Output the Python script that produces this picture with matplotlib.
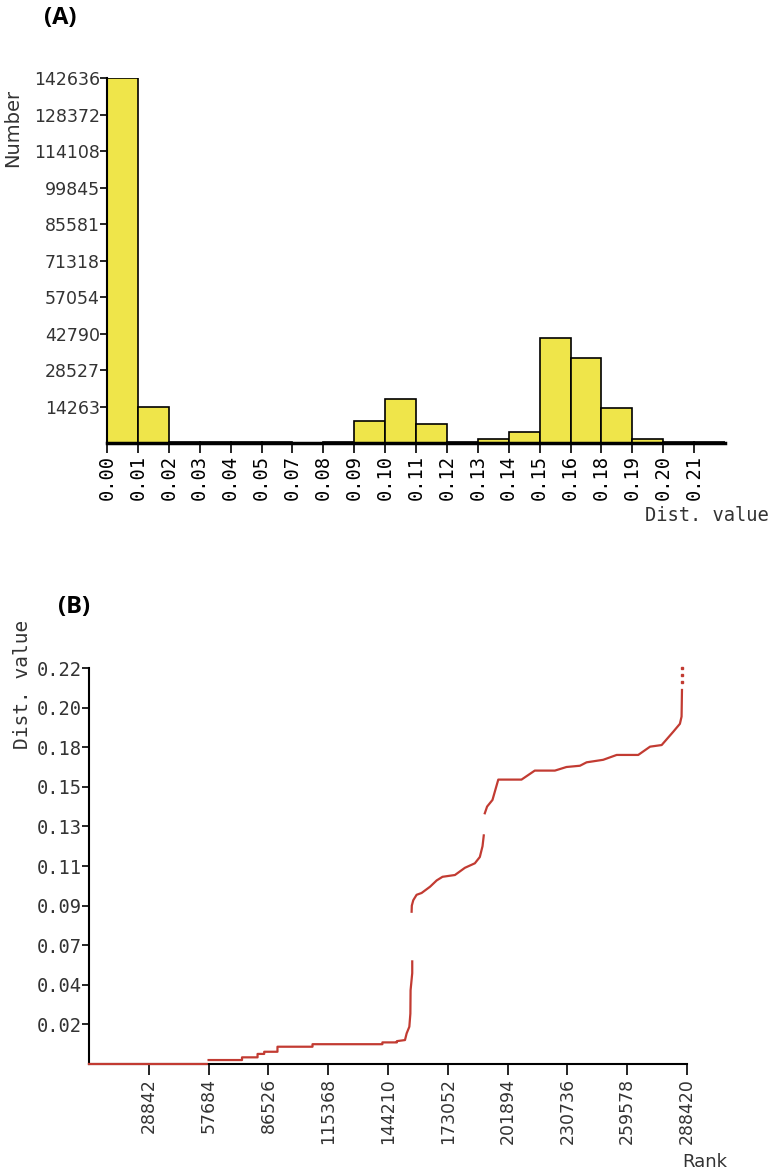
import matplotlib
matplotlib.use("Agg")
import matplotlib.pyplot as plt
import numpy as np

# (A) histogram of distance values
bin_labels = ["0.00", "0.01", "0.02", "0.03", "0.04", "0.05", "0.07", "0.08", "0.09", "0.10",
              "0.11", "0.12", "0.13", "0.14", "0.15", "0.16", "0.18", "0.19", "0.20", "0.21"]
bin_counts = [142636, 14000, 400, 400, 400, 400, 0, 400, 8600, 17200,
              7400, 400, 1600, 4300, 41200, 33300, 13800, 1600, 400, 300]
number_ticks = [14263, 28527, 42790, 57054, 71318, 85581, 99845, 114108, 128372, 142636]

# (B) ranked distance values, NaN = gap in the plotted points
rank = [0, 56800, np.nan,
        57684, 73800, 73800, 81300, 81300, 84500, 84500, 90900, 90900, 107800, 107800,
        141500, 141500, 148500, 148500, 152400, 153200, 154500, 155000, 155100, 155900, 155900, np.nan,
        155600, 155700, 156400, 158000, 160400, 164500, 167700, 170500, 176500, 181300,
        186100, 188500, 189800, 190400, np.nan,
        190900, 192000, 194600, 197400, 208600, 215000, 224700, 230300, 236800, 240000,
        248000, 254500, 264900, 270600, 276200, 281800, 285000, 285800, 286000]
dist = [0, 0, np.nan,
        0.0022, 0.0022, 0.0037, 0.0037, 0.0056, 0.0056, 0.0068, 0.0068, 0.0096, 0.0096, 0.011,
        0.011, 0.012, 0.012, 0.0127, 0.0133, 0.017, 0.0207, 0.028, 0.041, 0.0505, 0.057, np.nan,
        0.0846, 0.088, 0.091, 0.094, 0.095, 0.0985, 0.102, 0.104, 0.105, 0.109,
        0.1115, 0.115, 0.121, 0.127, np.nan,
        0.1393, 0.143, 0.1467, 0.158, 0.158, 0.163, 0.163, 0.165, 0.1657, 0.1676,
        0.169, 0.1717, 0.1717, 0.1763, 0.1772, 0.1846, 0.189, 0.193, 0.2078]
top_rank = [286000, 286000, 286000]
top_dist = [0.212, 0.216, 0.22]

rank_ticks = [28842 * k for k in range(1, 11)]
dist_ticks = [0.022 * k for k in range(1, 11)]
dist_tick_labels = ["0.02", "0.04", "0.07", "0.09", "0.11", "0.13", "0.15", "0.18", "0.20", "0.22"]

W, H = 781, 1175
fig = plt.figure(figsize=(W / 100, H / 100), dpi=100)
mono = "DejaVu Sans Mono"
sans = "DejaVu Sans"

# ---- panel A
axA = fig.add_axes([107 / W, 1 - 443 / H, 618 / W, 365 / H])
x = np.arange(len(bin_counts))
axA.bar(x, bin_counts, width=1.0, align="edge", color="#EFE54A", edgecolor="black", linewidth=1.2)
axA.set_xlim(0, len(bin_counts))
axA.set_ylim(0, 142636)
axA.set_xticks(x)
axA.set_xticklabels(bin_labels, rotation=90, family=mono, fontsize=13.5)
axA.set_yticks(number_ticks)
axA.set_yticklabels([str(v) for v in number_ticks], family=sans, fontsize=12.5, color="#333333")
axA.tick_params(axis="y", length=5, width=1.2, pad=0)
axA.tick_params(axis="x", length=7, width=1.2, pad=2)
for s in ["top", "right"]:
    axA.spines[s].set_visible(False)
axA.spines["left"].set_linewidth(1.5)
axA.spines["bottom"].set_linewidth(2.5)

fig.text(60 / W, 1 - 18 / H, "(A)", family="Open Sans", fontweight="bold", fontsize=17,
         ha="center", va="center")
fig.text(13 / W, 1 - 128 / H, "Number", family=sans, fontsize=14, rotation=90,
         ha="center", va="center", color="#333333")
fig.text(707 / W, 1 - 515 / H, "Dist. value", family=mono, fontsize=13.5,
         ha="center", va="center", color="#333333")

# ---- panel B
axB = fig.add_axes([89 / W, 1 - 1064 / H, 598 / W, 396 / H])
axB.plot(rank, dist, color="#C23B32", linewidth=1.6, zorder=3, clip_on=False)
axB.plot(top_rank, top_dist, ls="none", marker="s", markersize=1.5, color="#C23B32", clip_on=False)
axB.set_xlim(0, 288420)
axB.set_ylim(0, 0.22)
axB.set_xticks(rank_ticks)
axB.set_xticklabels([str(v) for v in rank_ticks], rotation=90, family=sans, fontsize=12.5,
                    color="#333333")
axB.set_yticks(dist_ticks)
axB.set_yticklabels(dist_tick_labels, family=mono, fontsize=13.5, color="#333333")
axB.tick_params(axis="y", length=5, width=1.2, pad=0)
axB.tick_params(axis="x", length=8, width=1.2, pad=2)
for s in ["top", "right"]:
    axB.spines[s].set_visible(False)
axB.spines["left"].set_linewidth(1.5)
axB.spines["bottom"].set_linewidth(1.5)

fig.text(74 / W, 1 - 607 / H, "(B)", family="Open Sans", fontweight="bold", fontsize=17,
         ha="center", va="center")
fig.text(23 / W, 1 - 684 / H, "Dist. value", family=mono, fontsize=14, rotation=90,
         ha="center", va="center", color="#333333")
fig.text(705 / W, 1 - 1162 / H, "Rank", family=sans, fontsize=13,
         ha="center", va="center", color="#333333")

fig.savefig("out.png", dpi=100)
